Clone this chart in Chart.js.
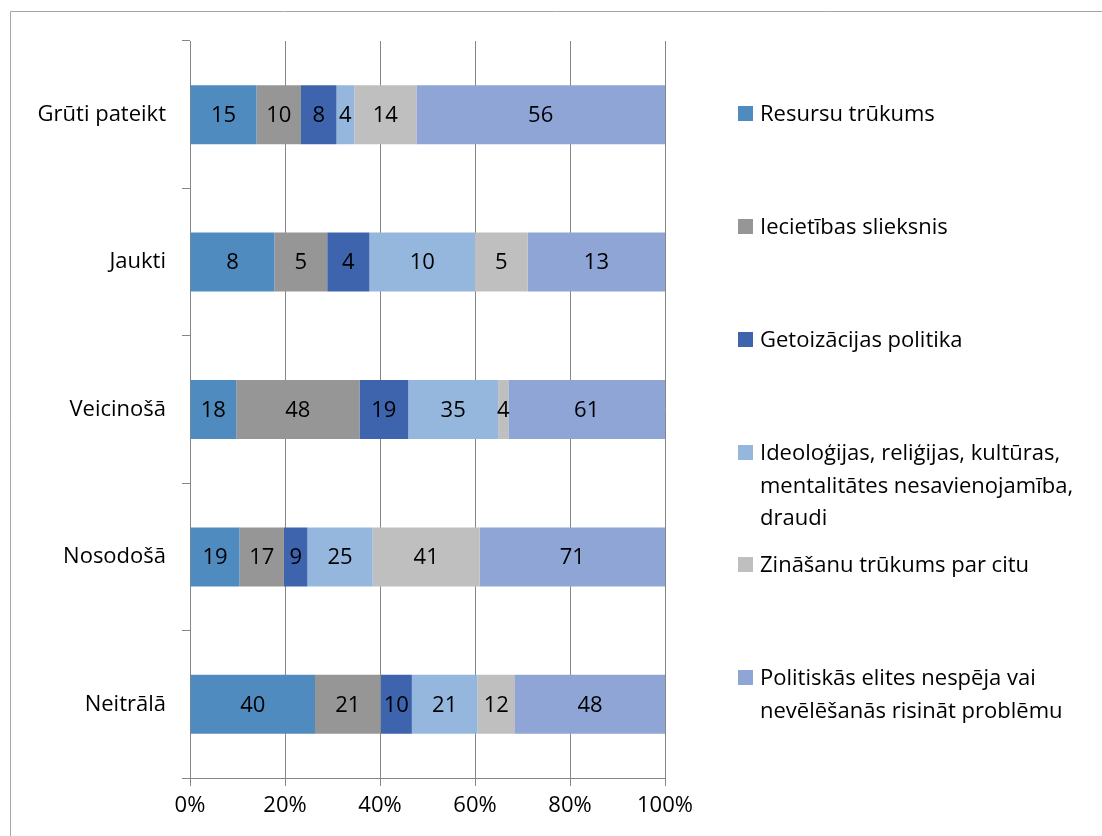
<!DOCTYPE html>
<html lang="lv">
<head>
<meta charset="utf-8">
<title>Attieksme un šķēršļi</title>
<script src="https://cdn.jsdelivr.net/npm/chart.js@4"></script>
<style>
    html, body { margin: 0; padding: 0; background: #fff; }
    .wrap { position: relative; width: 1102px; height: 836px; }
</style>
</head>
<body>
<div class="wrap"><canvas id="barChart"></canvas></div>
<script>
// Categories (top to bottom)
const categories = ['Grūti pateikt', 'Jaukti', 'Veicinošā', 'Nosodošā', 'Neitrālā'];

// Series names, one per stacked segment
const seriesNames = [
    'Resursu trūkums',
    'Iecietības slieksnis',
    'Getoizācijas politika',
    'Ideoloģijas, reliģijas, kultūras, mentalitātes nesavienojamība, draudi',
    'Zināšanu trūkums par citu',
    'Politiskās elites nespēja vai nevēlēšanās risināt problēmu'
];

// Raw counts per series, in category order
const resursi     = [15, 8, 18, 19, 40];
const iecietiba   = [10, 5, 48, 17, 21];
const getoizacija = [8, 4, 19, 9, 10];
const ideologija  = [4, 10, 35, 25, 21];
const zinasanas   = [14, 5, 4, 41, 12];
const elite       = [56, 13, 61, 71, 48];

const xTicks = [0, 20, 40, 60, 80, 100];

const seriesValues = [resursi, iecietiba, getoizacija, ideologija, zinasanas, elite];
const colors = ['#4F8BBF', '#969696', '#3D64AD', '#95B7DE', '#BFBFBF', '#8EA5D5'];

// Legend text split into lines, and the row of each entry
const legendLines = [
    ['Resursu trūkums'],
    ['Iecietības slieksnis'],
    ['Getoizācijas politika'],
    ['Ideoloģijas, reliģijas, kultūras,', 'mentalitātes nesavienojamība,', 'draudi'],
    ['Zināšanu trūkums par citu'],
    ['Politiskās elites nespēja vai', 'nevēlēšanās risināt problēmu']
];
const legendRowY = [113, 226, 339, 452, 564, 677];

const FONT = '"Open Sans", Lato, sans-serif';
const FONT_SIZE = 22;
const GRID = '#868686';

// 100% stacked: each category's counts turned into shares
const totals = categories.map((c, i) => seriesValues.reduce((s, arr) => s + arr[i], 0));

const datasets = seriesValues.map((arr, k) => ({
    label: seriesNames[k],
    data: arr.map((v, i) => v / totals[i] * 100),
    raw: arr,
    backgroundColor: colors[k],
    borderWidth: 0,
    barPercentage: 0.4,
    categoryPercentage: 1
}));

// Frame around the whole chart
const framePlugin = {
    id: 'frame',
    beforeDraw(chart) {
        const ctx = chart.ctx;
        ctx.save();
        ctx.fillStyle = '#fff';
        ctx.fillRect(0, 0, chart.width, chart.height);
        ctx.strokeStyle = '#A6A6A6';
        ctx.lineWidth = 1;
        ctx.beginPath();
        ctx.moveTo(10.5, chart.height);
        ctx.lineTo(10.5, 11.5);
        ctx.lineTo(chart.width, 11.5);
        ctx.stroke();
        ctx.restore();
    }
};

// Raw count in the middle of every segment
const valueLabels = {
    id: 'valueLabels',
    afterDatasetsDraw(chart) {
        const ctx = chart.ctx;
        ctx.save();
        ctx.font = FONT_SIZE + 'px ' + FONT;
        ctx.fillStyle = '#000';
        ctx.textAlign = 'center';
        ctx.textBaseline = 'middle';
        chart.data.datasets.forEach((ds, k) => {
            chart.getDatasetMeta(k).data.forEach((bar, i) => {
                const cx = (bar.x + bar.base) / 2;
                ctx.fillText(String(ds.raw[i]), cx, bar.y + 1);
            });
        });
        ctx.restore();
    }
};

// Legend on the right with wrapped entries
const sideLegend = {
    id: 'sideLegend',
    afterDraw(chart) {
        const ctx = chart.ctx;
        const boxX = chart.chartArea.right + 73;
        const textX = boxX + 22;
        ctx.save();
        ctx.font = FONT_SIZE + 'px ' + FONT;
        ctx.textAlign = 'left';
        ctx.textBaseline = 'middle';
        legendLines.forEach((lines, k) => {
            const y0 = legendRowY[k];
            ctx.fillStyle = colors[k];
            ctx.fillRect(boxX, y0 - 7, 15, 15);
            ctx.fillStyle = '#000';
            lines.forEach((t, j) => ctx.fillText(t, textX, y0 + 2 + j * 32.5));
        });
        ctx.restore();
    }
};

new Chart(document.getElementById('barChart'), {
    type: 'bar',
    data: { labels: categories, datasets: datasets },
    plugins: [framePlugin, valueLabels, sideLegend],
    options: {
        indexAxis: 'y',
        responsive: true,
        maintainAspectRatio: false,
        animation: false,
        layout: { padding: { left: 10, top: 41, right: 437, bottom: 0 } },
        plugins: {
            legend: { display: false },
            tooltip: { enabled: false }
        },
        scales: {
            x: {
                stacked: true,
                min: 0,
                max: 100,
                afterBuildTicks: (scale) => { scale.ticks = xTicks.map(v => ({ value: v })); },
                afterFit: (scale) => { scale.height = 58; },
                grid: { color: GRID, tickLength: 8, drawTicks: true },
                border: { color: GRID },
                ticks: {
                    color: '#000',
                    font: { family: FONT, size: FONT_SIZE },
                    padding: 7,
                    maxRotation: 0,
                    callback: (v) => v + '%'
                }
            },
            y: {
                stacked: true,
                afterFit: (scale) => { scale.width = 180; },
                grid: { drawOnChartArea: false, offset: true, tickLength: 8, color: GRID },
                border: { color: GRID },
                ticks: {
                    color: '#000',
                    font: { family: FONT, size: FONT_SIZE },
                    padding: 16
                }
            }
        }
    }
});
</script>
</body>
</html>
